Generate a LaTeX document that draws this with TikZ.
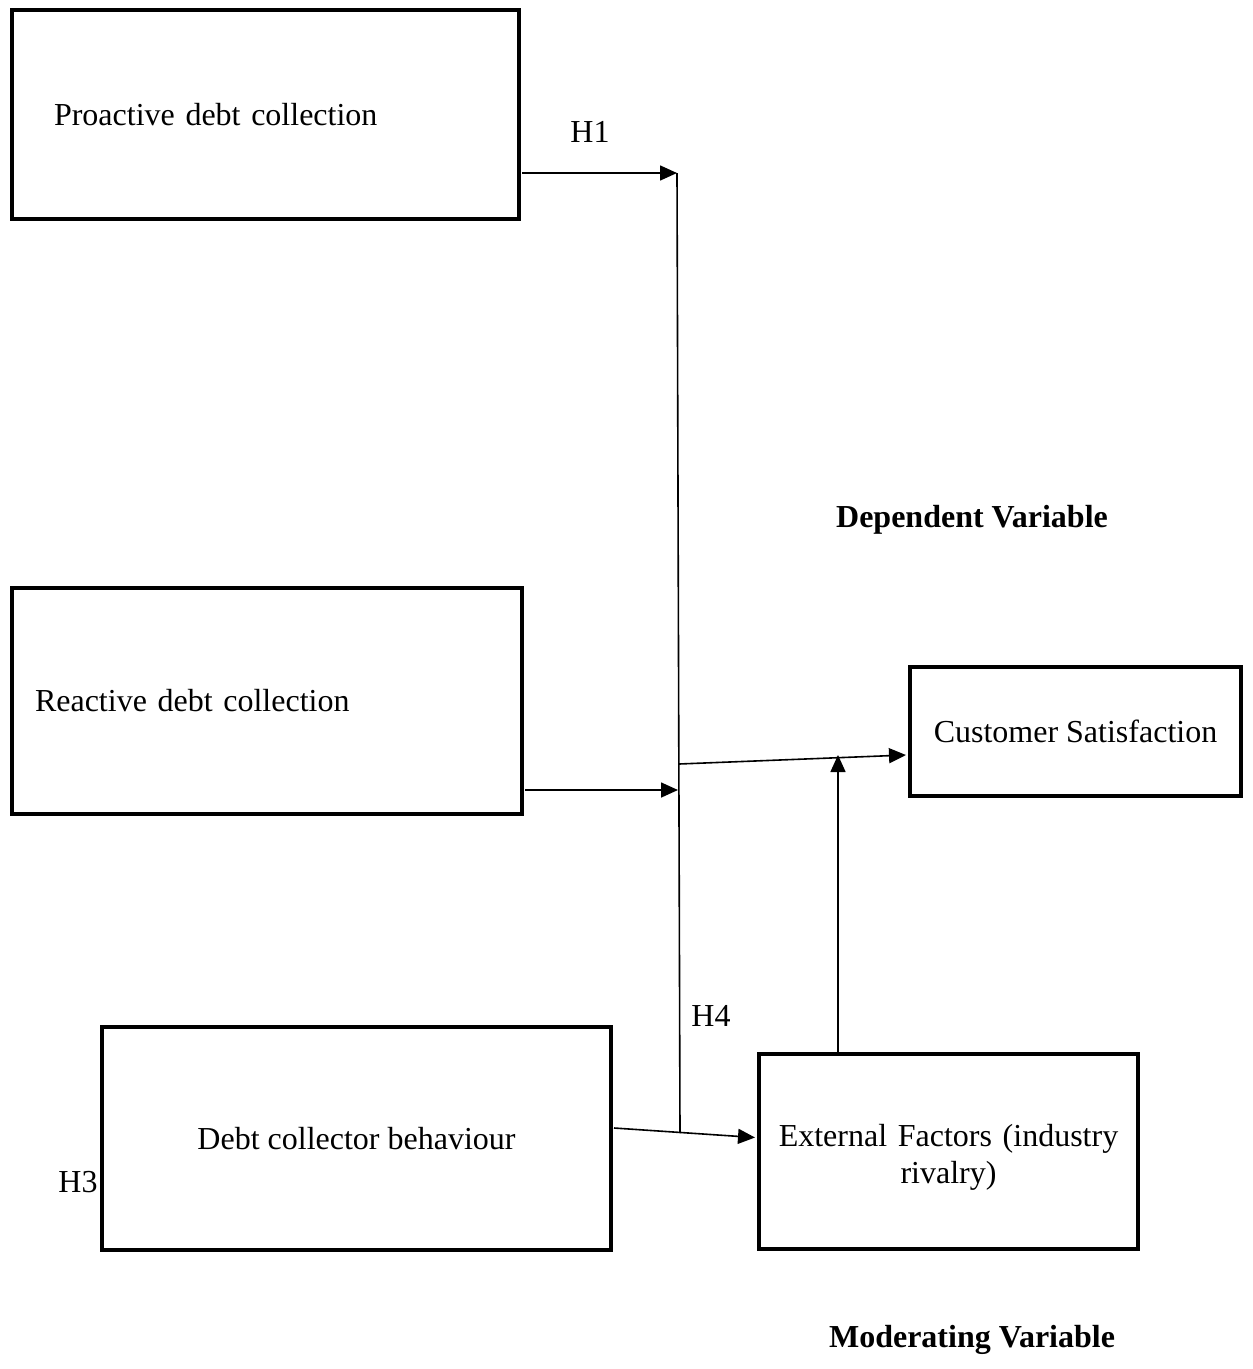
\documentclass[tikz,border=0pt]{standalone}
\usepackage{fontspec}
\setmainfont{Liberation Serif}
\usetikzlibrary{arrows.meta}
\begin{document}
\begin{tikzpicture}[x=1pt,y=-1pt,
  box/.style={draw,line width=4.2pt,inner sep=0pt,font=\fontsize{32}{38}\selectfont},
  conn/.style={line width=1.6pt},
  arr/.style={conn,-{Triangle[length=17pt,width=15pt]}},
  lbl/.style={inner sep=0pt,font=\fontsize{32}{38}\selectfont},
  blbl/.style={inner sep=0pt,font=\fontsize{32}{38}\selectfont\bfseries}]
\useasboundingbox (0,0) rectangle (1253,1369);
% boxes
\node[box,minimum width=507pt,minimum height=209pt,inner xsep=42pt,text width=423pt,align=left] (P) at (265.5,114.5) {Proactive debt collection};
\node[box,minimum width=510pt,minimum height=226pt,inner xsep=23pt,text width=464pt,align=left] (R) at (267,701) {Reactive debt collection};
\node[box,minimum width=509pt,minimum height=223pt,align=center] (D) at (356.5,1138.5) {Debt collector behaviour};
\node[box,minimum width=331pt,minimum height=129pt,align=center] (CS) at (1075.5,731.5) {Customer Satisfaction};
\node[box,minimum width=379pt,minimum height=195pt,align=center,text width=360pt] (EF) at (948.5,1151.5) {\rule{0pt}{34pt}External Factors (industry\\[-1pt] rivalry)};
% labels
\node[lbl] (h1) at (590,132) {H1};
\node[lbl] (h4) at (711,1016) {H4};
\node[lbl] (h3) at (78,1182) {H3};
\node[blbl] (dv) at (972,520) {Dependent Variable};
\node[blbl] (mv) at (972,1340) {Moderating Variable};
% junction coordinates
\coordinate (j1) at (677,173);
\coordinate (j2) at (678,790);
\coordinate (j3) at (679,764);
\coordinate (j4) at (680,1133);
\coordinate (pe) at (522,173);
\coordinate (re) at (525,790);
\coordinate (de) at (614,1128);
\coordinate (efw) at (755,1137.5);
\coordinate (csw) at (906,755);
\coordinate (eft) at (838,1052);
\coordinate (up) at (838,755);
% connectors
\draw[arr] (pe) -- (j1);
\draw[conn] (j1) -- (j4);
\draw[arr] (re) -- (j2);
\draw[arr] (j3) -- (csw);
\draw[arr] (de) -- (efw);
\draw[arr] (eft) -- (up);
\end{tikzpicture}
\end{document}
